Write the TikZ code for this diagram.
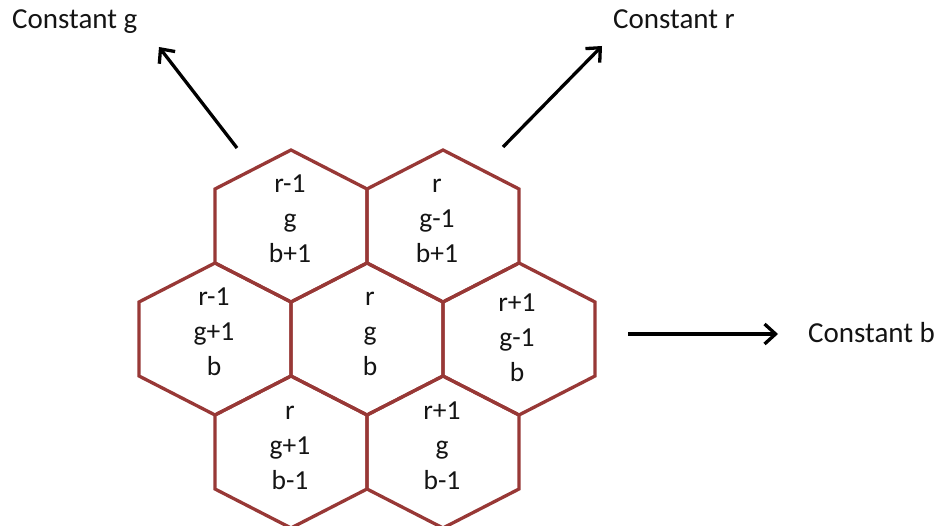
\documentclass[tikz,border=0pt]{standalone}
\usepackage{fontspec}
\setmainfont{Carlito}
\usetikzlibrary{arrows.meta}
\definecolor{hexred}{RGB}{152,56,54}
\definecolor{inkblack}{RGB}{20,20,20}
\newcommand\cellstack[3]{\begin{tabular}[t]{@{}c@{}}#1\\#2\\#3\end{tabular}}
\begin{document}
\begin{tikzpicture}[x=1pt,y=-1pt,
 hexline/.style={draw=hexred,line width=3.3pt,line join=miter},
 celltext/.style={anchor=base,inner sep=0pt,text=inkblack,font=\fontsize{27.5}{35}\selectfont},
 lbl/.style={anchor=base west,inner sep=0pt,text=inkblack,font=\fontsize{29}{35}\selectfont},
 arr/.style={line width=3.3pt,-{Straight Barb[length=11pt,width=20pt]}},
 pics/hexcell/.style={code={\draw[hexline] (0,-76) -- (76,-37) -- (76,37) -- (0,76) -- (-76,37) -- (-76,-37) -- cycle;}}]
\useasboundingbox (0,0) rectangle (943,526);
\clip (0,0) rectangle (943,526);
\fill[white] (0,0) rectangle (943,526);
% hex centres
\coordinate (hTL) at (291,226);
\coordinate (hTR) at (443,226);
\coordinate (hML) at (215,339);
\coordinate (hMC) at (367,339);
\coordinate (hMR) at (519,339);
\coordinate (hBL) at (291,452);
\coordinate (hBR) at (443,452);
\foreach \c in {hTL,hTR,hML,hMC,hMR,hBL,hBR} { \pic at (\c) {hexcell}; }
% cell texts
\node[celltext] (tl) at (290,193) {\cellstack{r-1}{g}{b+1}};
\node[celltext] (tr) at (437,193) {\cellstack{r}{g-1}{b+1}};
\node[celltext] (ml) at (214,306) {\cellstack{r-1}{g+1}{b}};
\node[celltext] (mc) at (370,306) {\cellstack{r}{g}{b}};
\node[celltext] (mr) at (517,312) {\cellstack{r+1}{g-1}{b}};
\node[celltext] (bl) at (290,420) {\cellstack{r}{g+1}{b-1}};
\node[celltext] (br) at (442,420) {\cellstack{r+1}{g}{b-1}};
% labels
\node[lbl] (cg) at (12,29) {Constant g};
\node[lbl] (cr) at (613,29) {Constant r};
\node[lbl] (cb) at (808,343) {Constant b};
% arrows
\coordinate (gtail) at (237,148);
\coordinate (gtip) at (159,47);
\coordinate (rtail) at (503,147);
\coordinate (rtip) at (602,46);
\coordinate (btail) at (628,334);
\coordinate (btip) at (778,334);
\draw[arr] (gtail) -- (gtip);
\draw[arr] (rtail) -- (rtip);
\draw[arr] (btail) -- (btip);
\end{tikzpicture}
\end{document}
